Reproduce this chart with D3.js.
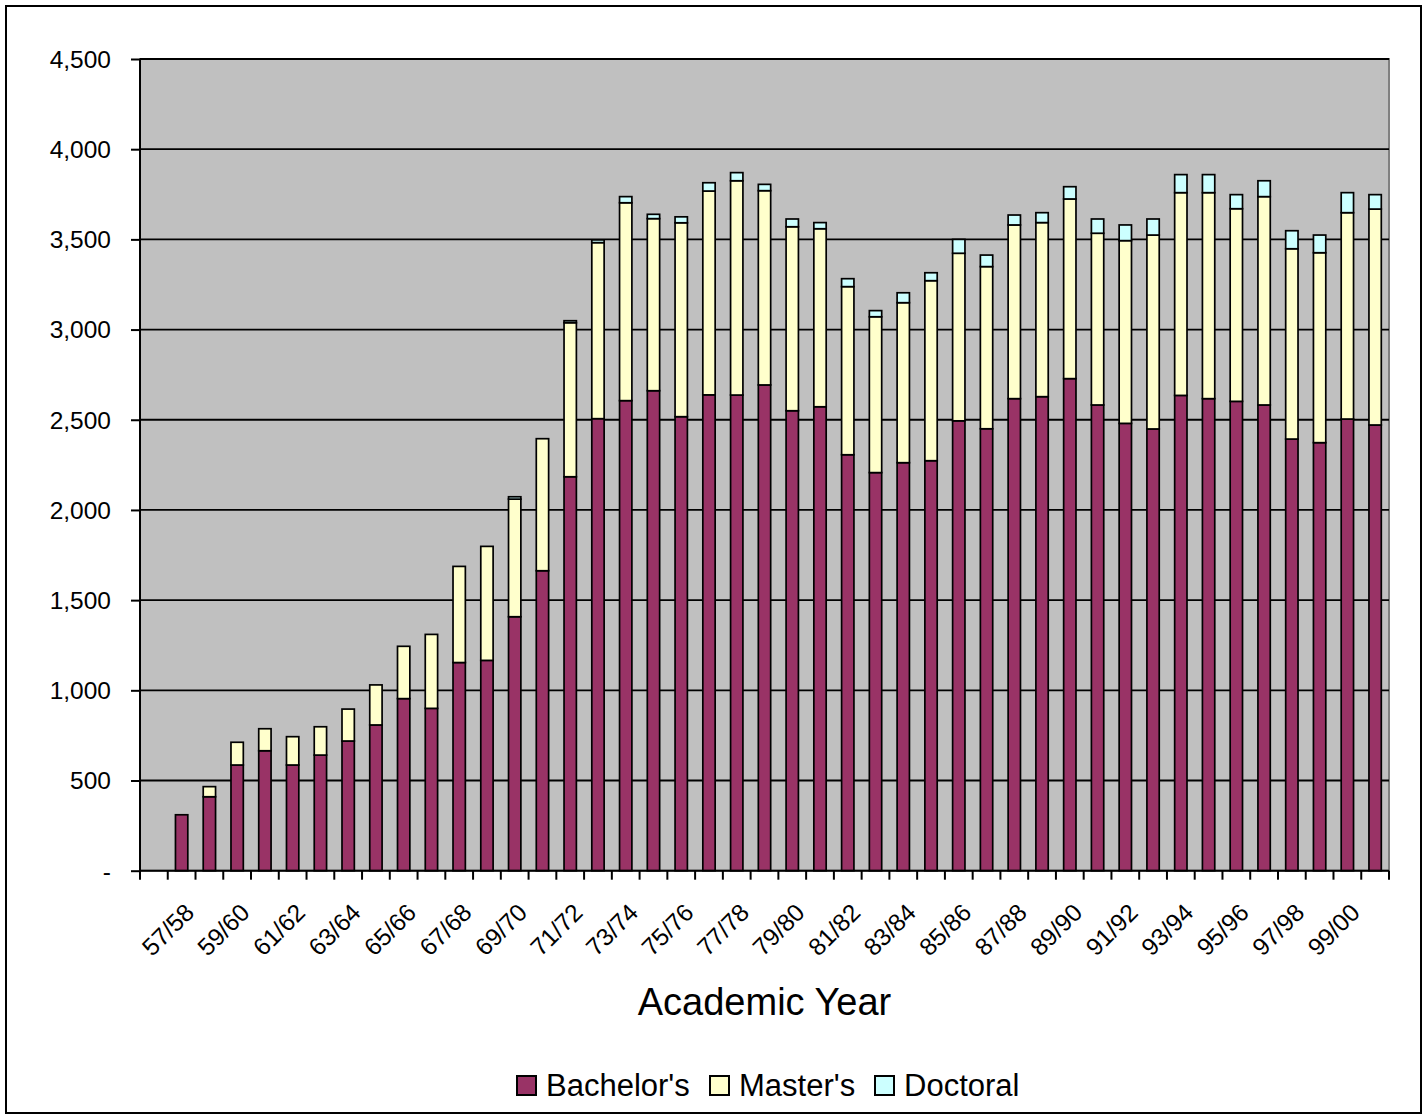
<!DOCTYPE html>
<html>
<head>
<meta charset="utf-8">
<script src="https://cdn.jsdelivr.net/npm/d3@7"></script>
<style>
  html, body { margin: 0; padding: 0; background: #fff; }
  svg { display: block; font-family: "Liberation Sans", Arial, sans-serif; }
</style>
</head>
<body>
<svg id="chart" width="1427" height="1119"></svg>
<script>
// ---- data ----
const categories = ["57/58","58/59","59/60","60/61","61/62","62/63","63/64","64/65","65/66","66/67",
  "67/68","68/69","69/70","70/71","71/72","72/73","73/74","74/75","75/76","76/77",
  "77/78","78/79","79/80","80/81","81/82","82/83","83/84","84/85","85/86","86/87",
  "87/88","88/89","89/90","90/91","91/92","92/93","93/94","94/95","95/96","96/97",
  "97/98","98/99","99/00","00/01"];
const bachelors = [310,410,586,665,586,641,719,808,954,900,
  1154,1166,1408,1663,2184,2506,2606,2661,2517,2638,
  2637,2693,2550,2572,2306,2207,2262,2273,2494,2450,
  2617,2628,2728,2582,2480,2449,2635,2617,2602,2582,
  2393,2373,2504,2471];
const masters = [0,56,126,122,157,157,177,222,290,410,
  533,632,652,732,854,976,1097,954,1075,1130,
  1188,1077,1020,987,932,864,887,998,929,899,
  963,965,996,952,1013,1075,1124,1142,1068,1155,
  1055,1053,1144,1197];
const doctoral = [0,0,0,0,0,0,0,0,0,0,
  0,0,13,0,11,15,34,24,33,46,
  45,35,43,34,44,34,55,44,77,64,
  55,55,68,79,87,89,100,100,78,88,
  100,98,111,80];
const yTicks = [0,500,1000,1500,2000,2500,3000,3500,4000,4500];
const seriesNames = ["Bachelor's","Master's","Doctoral"];
const seriesColors = ["#993366","#FFFFCC","#CCFFFF"];

// ---- layout ----
const svg = d3.select("#chart");
const plot = {left: 140, right: 1389, top: 59, bottom: 870.7};

svg.append("rect").attr("x",6).attr("y",6).attr("width",1415).attr("height",1107)
  .attr("fill","#fff").attr("stroke","#000").attr("stroke-width",2);

const slots = [""].concat(categories);
const x = d3.scaleBand().domain(slots).range([plot.left, plot.right]).padding(0);
const y = d3.scaleLinear().domain([0,4500]).range([plot.bottom, plot.top]);
const step = x.step();
const barW = step / 2.25;

// plot area
svg.append("rect").attr("x",plot.left).attr("y",plot.top)
  .attr("width",plot.right-plot.left).attr("height",plot.bottom-plot.top)
  .attr("fill","#C0C0C0").attr("stroke","#808080").attr("stroke-width",2);

// gridlines
svg.append("g").selectAll("line").data(yTicks.filter(d=>d>0)).join("line")
  .attr("x1",plot.left).attr("x2",plot.right)
  .attr("y1",d=>y(d)).attr("y2",d=>y(d))
  .attr("stroke","#000").attr("stroke-width",1.8);

// stacked bars
const table = categories.map((c,i)=>({cat:c, b:bachelors[i], m:masters[i], d:doctoral[i]}));
const stack = d3.stack().keys(["b","m","d"])(table);
const g = svg.append("g");
stack.forEach((layer, li) => {
  g.append("g").selectAll("rect").data(layer.filter(s => s[1]-s[0] > 0)).join("rect")
    .attr("x", s => x(s.data.cat) + step/2 - barW/2)
    .attr("width", barW)
    .attr("y", s => y(s[1]))
    .attr("height", s => y(s[0]) - y(s[1]))
    .attr("fill", seriesColors[li])
    .attr("stroke", "#000").attr("stroke-width", 1.7);
});

// y axis
const yAxis = d3.axisLeft(y).tickValues(yTicks).tickSize(9).tickPadding(20)
  .tickFormat(d => d === 0 ? "-" : d3.format(",")(d));
const ya = svg.append("g").attr("transform",`translate(${plot.left},0)`).call(yAxis);
ya.select(".domain").attr("stroke","#000").attr("stroke-width",2).attr("d",`M0,${plot.top}V${plot.bottom}`);
ya.selectAll(".tick line").attr("stroke","#000").attr("stroke-width",2);
ya.selectAll(".tick text").attr("font-size",24.5).attr("fill","#000")
  .attr("font-family",'"Liberation Sans", Arial, sans-serif').attr("dy","0.34em");

// x axis line + ticks at boundaries
const xa = svg.append("g");
xa.append("line").attr("x1",plot.left).attr("x2",plot.right)
  .attr("y1",plot.bottom).attr("y2",plot.bottom).attr("stroke","#000").attr("stroke-width",2);
const bounds = slots.map(s => x(s)).concat([plot.right]);
xa.selectAll("line.tk").data(bounds).join("line").attr("class","tk")
  .attr("x1",d=>d).attr("x2",d=>d).attr("y1",plot.bottom).attr("y2",plot.bottom+9)
  .attr("stroke","#000").attr("stroke-width",2);

// x labels (every other)
xa.selectAll("text").data(categories.filter((c,i)=>i%2===0)).join("text")
  .attr("transform", c => `translate(${x(c)+step/2+14},${914}) rotate(-45)`)
  .attr("text-anchor","end").attr("font-size",24.5).attr("fill","#000").text(c=>c);

// axis title
svg.append("text").attr("x",(plot.left+plot.right)/2).attr("y",1015)
  .attr("text-anchor","middle").attr("font-size",38).attr("fill","#000").text("Academic Year");

// legend
const legendX = [517, 710, 875];
const lg = svg.append("g");
seriesNames.forEach((n,i)=>{
  lg.append("rect").attr("x",legendX[i]).attr("y",1076).attr("width",19).attr("height",19)
    .attr("fill",seriesColors[i]).attr("stroke","#000").attr("stroke-width",2);
  lg.append("text").attr("x",legendX[i]+29).attr("y",1096).attr("font-size",31)
    .attr("fill","#000").text(n);
});
</script>
</body>
</html>
